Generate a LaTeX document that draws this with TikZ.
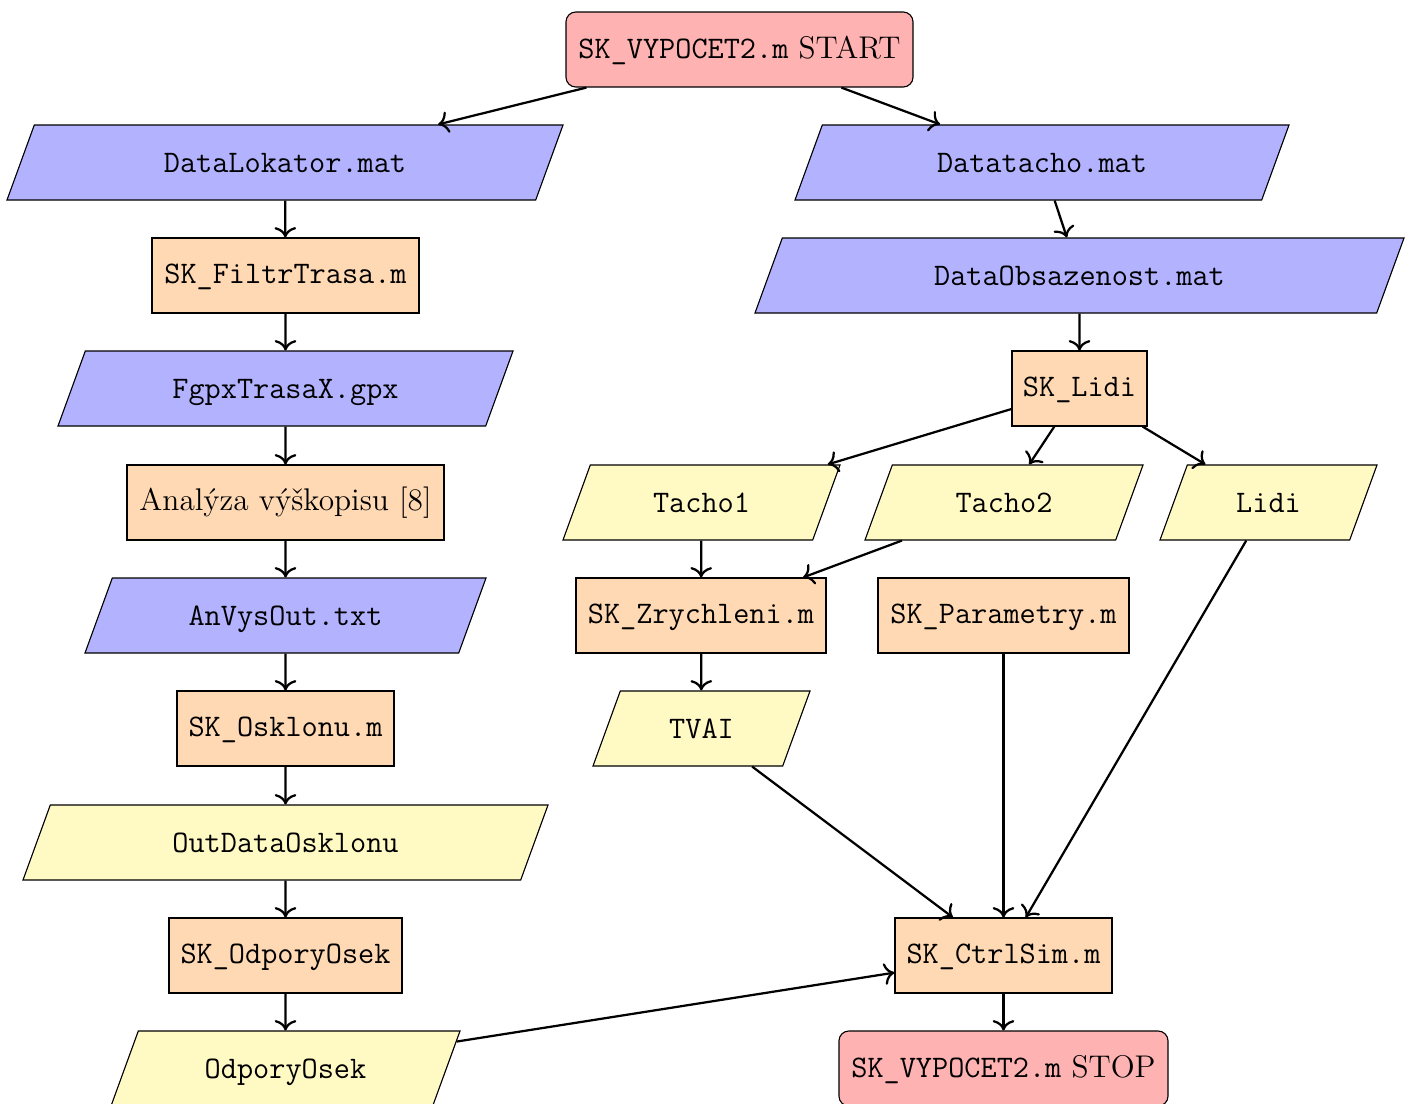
\documentclass[tikz,border=0pt]{standalone}
\usetikzlibrary{shapes.geometric,arrows.meta}
\definecolor{cstart}{RGB}{255,178,178}
\definecolor{cdata}{RGB}{178,178,255}
\definecolor{cproc}{RGB}{255,217,179}
\definecolor{cvar}{RGB}{255,249,196}
\begin{document}
\begin{tikzpicture}[x=0.3571pt,y=-0.3571pt,
  every node/.style={font=\fontsize{11.2}{13}\selectfont},
  sz/.style 2 args={minimum width=#1*0.3571pt, minimum height=#2*0.3571pt},
  term/.style={draw, fill=cstart, rounded corners=3.5pt, inner sep=0pt, text height=7.9pt, text depth=1.3pt},
  proc/.style={draw, fill=cproc, rectangle, inner sep=0pt, text height=7.6pt, text depth=1.6pt},
  para/.style={draw, trapezium, trapezium left angle=70, trapezium right angle=110,
    trapezium stretches body=true, text height=8pt, text depth=1.2pt, inner xsep=0pt, inner ysep=8.79pt},
  datafile/.style={para, fill=cdata},
  var/.style={para, fill=cvar},
  arr/.style={-{To[scale=1.1]}, thick}]
\useasboundingbox (0,0) rectangle (1409,1104);
% left column
\node[term, sz={347}{75}] (start) at (739.5,49.5) {\texttt{SK\_VYPOCET2.m} START};
\node[datafile, sz={556}{75}] (dlok) at (285,162.5) {\texttt{DataLokator.mat}};
\node[proc, sz={267}{75}] (filtr) at (285.5,275.5) {\texttt{SK\_FiltrTrasa.m}};
\node[datafile, sz={455}{75}] (fgpx) at (285.5,388.5) {\texttt{FgpxTrasaX.gpx}};
\node[proc, sz={317}{75}] (anal) at (285.5,502.5) {Analýza výškopisu [8]};
\node[datafile, sz={401}{75}] (anvys) at (285.5,615.5) {\texttt{AnVysOut.txt}};
\node[proc, sz={217}{75}] (osk) at (285.5,728.5) {\texttt{SK\_Osklonu.m}};
\node[var, sz={525}{75}] (outosk) at (285.5,842.5) {\texttt{OutDataOsklonu}};
\node[proc, sz={233}{75}] (skodp) at (285.5,955.5) {\texttt{SK\_OdporyOsek}};
\node[var, sz={349}{75}] (odp) at (285.5,1068.5) {\texttt{OdporyOsek}};
% right part
\node[datafile, sz={494}{75}] (dtacho) at (1042,162.5) {\texttt{Datatacho.mat}};
\node[datafile, sz={649}{75}] (dobs) at (1079.5,275.5) {\texttt{DataObsazenost.mat}};
\node[proc, sz={135}{75}] (lidi) at (1079.5,388.5) {\texttt{SK\_Lidi}};
\node[var, sz={277}{75}] (t1) at (701.5,502.5) {\texttt{Tacho1}};
\node[var, sz={278}{75}] (t2) at (1004,502.5) {\texttt{Tacho2}};
\node[var, sz={217}{75}] (vlidi) at (1268.5,502.5) {\texttt{Lidi}};
\node[proc, sz={250}{75}] (zry) at (701,615.5) {\texttt{SK\_Zrychleni.m}};
\node[proc, sz={251}{75}] (par) at (1003.5,615.5) {\texttt{SK\_Parametry.m}};
\node[var, sz={217}{75}] (tvai) at (701.5,728.5) {\texttt{TVAI}};
\node[proc, sz={217}{75}] (ctrl) at (1003.5,955.5) {\texttt{SK\_CtrlSim.m}};
\node[term, sz={329}{75}] (stop) at (1003.5,1068.5) {\texttt{SK\_VYPOCET2.m} STOP};
% connectors
\draw[arr] (start) -- (dlok);
\draw[arr] (start) -- (dtacho);
\draw[arr] (dlok) -- (filtr);
\draw[arr] (filtr) -- (fgpx);
\draw[arr] (fgpx) -- (anal);
\draw[arr] (anal) -- (anvys);
\draw[arr] (anvys) -- (osk);
\draw[arr] (osk) -- (outosk);
\draw[arr] (outosk) -- (skodp);
\draw[arr] (skodp) -- (odp);
\draw[arr] (dtacho) -- (dobs);
\draw[arr] (dobs) -- (lidi);
\draw[arr] (lidi) -- (t1);
\draw[arr] (lidi) -- (t2);
\draw[arr] (lidi) -- (vlidi);
\draw[arr] (t1) -- (zry);
\draw[arr] (t2) -- (zry);
\draw[arr] (zry) -- (tvai);
\draw[arr] (tvai) -- (ctrl);
\draw[arr] (par) -- (ctrl);
\draw[arr] (vlidi) -- (ctrl);
\draw[arr] (odp) -- (ctrl);
\draw[arr] (ctrl) -- (stop);
\end{tikzpicture}
\end{document}
